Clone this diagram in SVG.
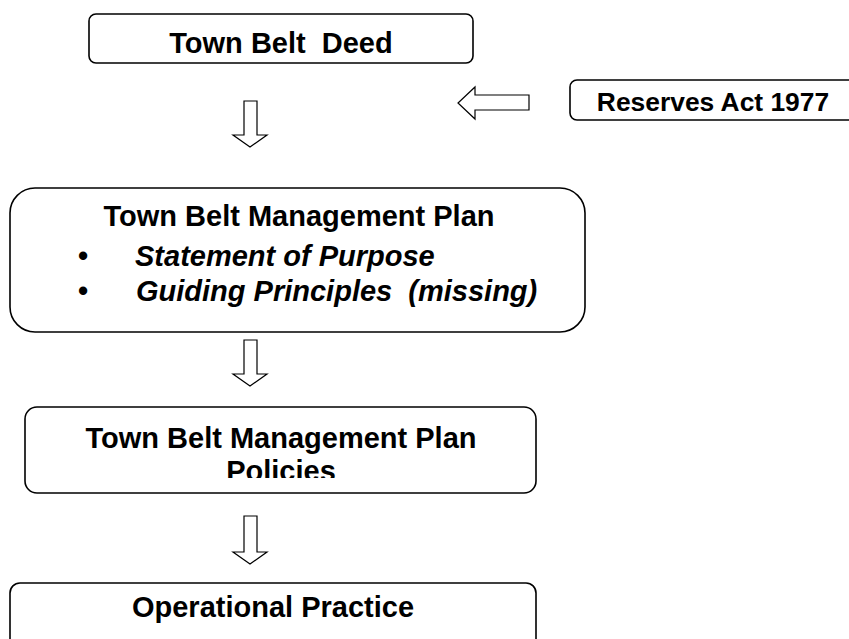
<svg xmlns="http://www.w3.org/2000/svg" width="849" height="639" viewBox="0 0 849 639">
<defs>
<style>
.box{fill:#fff;stroke:#000;stroke-width:1.6}
.arr{fill:#fff;stroke:#000;stroke-width:1.2;stroke-linejoin:miter}
.t{font-family:"Liberation Sans",Arial,sans-serif;font-weight:bold;font-size:29px;fill:#000}
.ti{font-family:"Liberation Sans",Arial,sans-serif;font-weight:bold;font-style:italic;font-size:29px;fill:#000}
</style>
<clipPath id="clipPol"><rect x="0" y="400" width="849" height="78"/></clipPath>
</defs>
<rect width="849" height="639" fill="#fff"/>
<g id="deed">
<rect class="box" x="89" y="14" width="384" height="49" rx="7"/>
<text class="t" x="281" y="53" text-anchor="middle" xml:space="preserve">Town Belt  Deed</text>
</g>
<g id="reserves">
<rect class="box" x="570" y="80" width="300" height="40" rx="7"/>
<text class="t" x="713" y="111" text-anchor="middle" style="font-size:26.4px">Reserves Act 1977</text>
</g>
<g id="plan">
<rect class="box" x="10" y="188" width="575" height="144" rx="25"/>
<text class="t" x="299" y="226" text-anchor="middle">Town Belt Management Plan</text>
<text class="t" x="78" y="266">•</text>
<text class="ti" x="135" y="266">Statement of Purpose</text>
<text class="t" x="78" y="301">•</text>
<text class="ti" x="136" y="301" xml:space="preserve">Guiding Principles  (missing)</text>
</g>
<g id="policies">
<rect class="box" x="25" y="407" width="511" height="86" rx="12"/>
<g clip-path="url(#clipPol)">
<text class="t" x="281" y="448" text-anchor="middle">Town Belt Management Plan</text>
<text class="t" x="281" y="481" text-anchor="middle">Policies</text>
</g>
</g>
<g id="operational">
<rect class="box" x="10" y="583" width="526" height="80" rx="10"/>
<text class="t" x="273" y="617" text-anchor="middle">Operational Practice</text>
</g>
<g id="connectors">
<polygon class="arr" points="244,101 257,101 257,135 267,135 250,147 233,135 244,135"/>
<polygon class="arr" points="529,95 529,110 475,110 475,119 458,103 475,87 475,95"/>
<polygon class="arr" points="244,340 257,340 257,374 267,374 250,386 233,374 244,374"/>
<polygon class="arr" points="244,516 257,516 257,552 267,552 250,564 233,552 244,552"/>
</g>
</svg>
